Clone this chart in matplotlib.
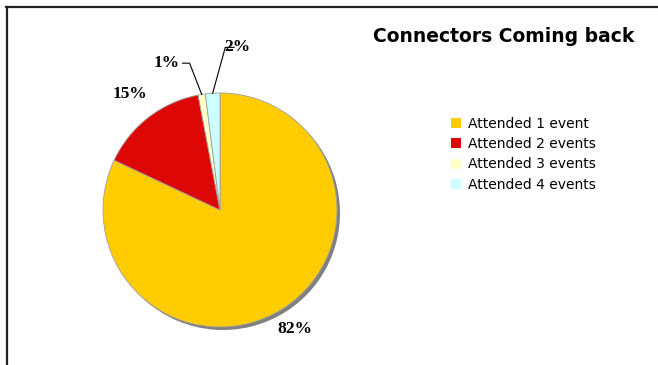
import numpy as np
import matplotlib
matplotlib.use("Agg")
import matplotlib.pyplot as plt
from matplotlib.patches import Patch
from matplotlib.lines import Line2D

categories = ["Attended 1 event", "Attended 2 events", "Attended 3 events", "Attended 4 events"]
values = [82, 15, 1, 2]
labels = ["82%", "15%", "1%", "2%"]
colors = ["#FFCC00", "#DD0806", "#FFFFCC", "#CCFFFF"]
title = "Connectors Coming back"

W, H = 658, 365
fig = plt.figure(figsize=(W / 100, H / 100), dpi=100)
fig.patch.set_facecolor("white")

# pie axes: centre (220,210) px from top, radius 117 px
cx, cy, R = 220, 210, 117
ax = fig.add_axes([(cx - R) / W, (H - cy - R) / H, 2 * R / W, 2 * R / H])

# shadow
sh = 3.0 / R
ax.pie(values, colors=["#808080"] * len(values), startangle=90, counterclock=False,
       center=(sh, -sh), radius=1.0, wedgeprops=dict(linewidth=0), frame=True)
wedges, _ = ax.pie(values, colors=colors, startangle=90, counterclock=False,
                   radius=1.0, wedgeprops=dict(linewidth=0.6, edgecolor="#a0a0a0"), frame=True)
ax.set_xlim(-1, 1)
ax.set_ylim(-1, 1)
ax.set_aspect("equal")
ax.axis("off")

lfont = dict(family="Liberation Serif", weight="bold", fontsize=12.5)
for w, lab in zip(wedges, labels):
    mid = np.deg2rad((w.theta1 + w.theta2) / 2)
    if lab == "82%":
        r = 1.2
        ax.text(r * np.cos(mid), r * np.sin(mid), lab, ha="center", va="center", clip_on=False, **lfont)
    elif lab == "15%":
        r = 1.25
        ax.text(r * np.cos(mid), r * np.sin(mid), lab, ha="center", va="center", clip_on=False, **lfont)

# small slices with leader lines
w3 = wedges[2]
mid3 = np.deg2rad((w3.theta1 + w3.theta2) / 2)
p3 = (np.cos(mid3), np.sin(mid3))
t3 = (-0.46, 1.255)
ax.text(t3[0], t3[1], labels[2], ha="center", va="center", clip_on=False, **lfont)
ax.plot([t3[0] + 0.14, t3[0] + 0.2, p3[0]], [t3[1], t3[1], p3[1]], color="black", lw=0.8, clip_on=False)

w4 = wedges[3]
mid4 = np.deg2rad((w4.theta1 + w4.theta2) / 2)
p4 = (np.cos(mid4), np.sin(mid4))
t4 = (0.145, 1.39)
ax.text(t4[0], t4[1], labels[3], ha="center", va="center", clip_on=False, **lfont)
ax.plot([t4[0] - 0.025, t4[0] - 0.1, p4[0]], [t4[1], t4[1], p4[1]], color="black", lw=0.8, clip_on=False)

# title
fig.text(504 / W, 1 - 36 / H, title, ha="center", va="center",
         family="DejaVu Sans", weight="bold", fontsize=13.5)

# legend
handles = [Patch(facecolor=c, edgecolor="none") for c in colors]
leg = fig.legend(handles, categories, loc="upper left", bbox_to_anchor=(451 / W, 1 - 117 / H),
                 frameon=False, prop=dict(family="DejaVu Sans", size=10),
                 handlelength=0.75, handleheight=0.75, handletextpad=0.45, labelspacing=0.45,
                 borderpad=0, borderaxespad=0)

# chart border (top and left visible)
fig.add_artist(Line2D([6 / W, 1.0], [1 - 7 / H, 1 - 7 / H], transform=fig.transFigure, color="#222222", lw=1.6))
fig.add_artist(Line2D([7 / W, 7 / W], [0, 1 - 7 / H], transform=fig.transFigure, color="#222222", lw=1.6))

fig.savefig("out.png", dpi=100, facecolor="white")
